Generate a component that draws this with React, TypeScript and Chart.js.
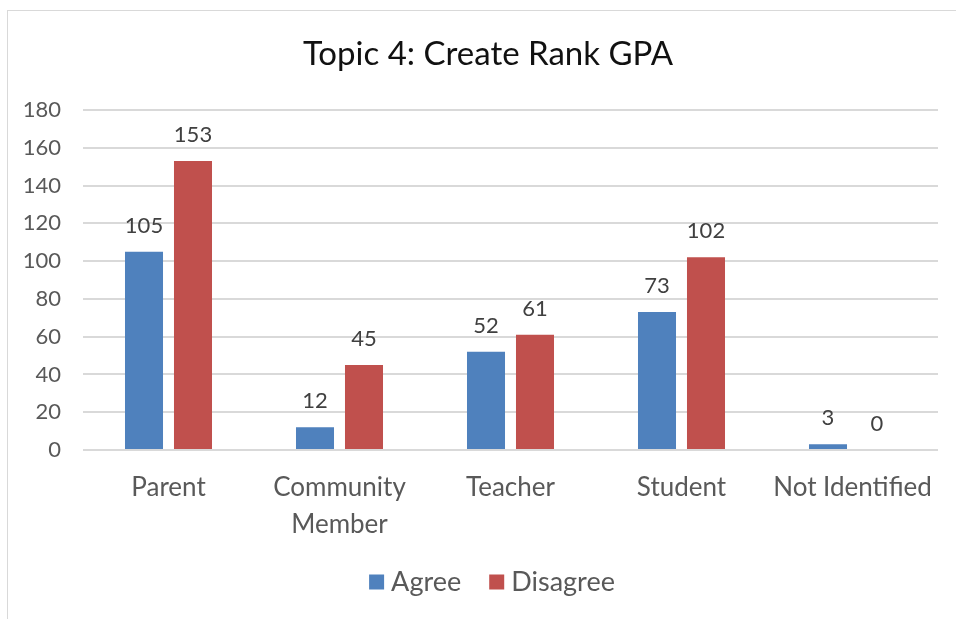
import React, { useEffect, useRef } from "react";
import { Chart, registerables } from "chart.js";

Chart.register(...registerables);

const TITLE = "Topic 4: Create Rank GPA";
const categories: (string | string[])[] = ["Parent", ["Community", "Member"], "Teacher", "Student", "Not Identified"];
const agree = [105, 12, 52, 73, 3];
const disagree = [153, 45, 61, 102, 0];
const yTicks = { min: 0, max: 180, step: 20 };

const FONT = "Lato, 'Open Sans', sans-serif";

const dataLabels = {
  id: "dataLabels",
  afterDatasetsDraw(chart: any) {
    const ctx = chart.ctx;
    ctx.save();
    ctx.font = `22px ${FONT}`;
    ctx.fillStyle = "#404040";
    ctx.textAlign = "center";
    ctx.textBaseline = "middle";
    chart.data.datasets.forEach((ds: any, i: number) => {
      const meta = chart.getDatasetMeta(i);
      meta.data.forEach((bar: any, j: number) => {
        ctx.fillText(String(ds.data[j]), bar.x, bar.y - 26);
      });
    });
    ctx.restore();
  },
};

const titlePlugin = {
  id: "titleDraw",
  afterDraw(chart: any) {
    const ctx = chart.ctx;
    ctx.save();
    ctx.font = `33px ${FONT}`;
    ctx.fillStyle = "#111111";
    ctx.textAlign = "center";
    ctx.textBaseline = "middle";
    ctx.fillText(TITLE, 488, 54);
    ctx.restore();
  },
};

const legendPlugin = {
  id: "customLegend",
  afterDraw(chart: any) {
    const ctx = chart.ctx;
    ctx.save();
    ctx.font = `27px ${FONT}`;
    ctx.textBaseline = "middle";
    ctx.textAlign = "left";
    const box = 15;
    const gapBoxText = 7;
    const gapItems = 28;
    const items = chart.data.datasets.map((ds: any) => ({
      label: ds.label,
      color: ds.backgroundColor,
      w: box + gapBoxText + ctx.measureText(ds.label).width,
    }));
    const total = items.reduce((s: number, it: any) => s + it.w, 0) + gapItems * (items.length - 1);
    let x = 492 - total / 2;
    const y = 582;
    items.forEach((it: any) => {
      ctx.fillStyle = it.color;
      ctx.fillRect(x, y - box / 2, box, box);
      ctx.fillStyle = "#595959";
      ctx.fillText(it.label, x + box + gapBoxText, y);
      x += it.w + gapItems;
    });
    ctx.restore();
  },
};

export default function App() {
  const ref = useRef<HTMLCanvasElement>(null);
  useEffect(() => {
    const chart = new Chart(ref.current!, {
      type: "bar",
      data: {
        labels: categories,
        datasets: [
          { label: "Agree", data: agree, backgroundColor: "#4F81BD", categoryPercentage: 0.573, barPercentage: 0.776 },
          { label: "Disagree", data: disagree, backgroundColor: "#C0504D", categoryPercentage: 0.573, barPercentage: 0.776 },
        ],
      },
      options: {
        animation: false,
        responsive: false,
        maintainAspectRatio: false,
        layout: { padding: { top: 110, right: 18, bottom: 61, left: 0 } },
        plugins: {
          title: { display: false },
          tooltip: { enabled: false },
          legend: { display: false },
        },
        scales: {
          x: {
            grid: { display: false, drawTicks: false },
            border: { display: false },
            ticks: { color: "#595959", font: { family: FONT, size: 26, lineHeight: 1.42 }, padding: 19, maxRotation: 0, autoSkip: false },
            afterFit(scale: any) { scale.height = 108; },
          },
          y: {
            min: yTicks.min,
            max: yTicks.max,
            grid: { color: "#D9D9D9", lineWidth: 2, drawTicks: false },
            border: { display: false },
            ticks: { stepSize: yTicks.step, color: "#595959", font: { family: FONT, size: 22 }, padding: 22 },
            afterFit(scale: any) { scale.width = 83; },
          },
        },
      },
      plugins: [dataLabels, titlePlugin, legendPlugin],
    });
    return () => chart.destroy();
  }, []);
  return (
    <div style={{ position: "absolute", left: 0, top: 0, width: 956, height: 619, background: "#fff" }}>
      <div style={{ position: "absolute", left: 7, top: 10, right: -2, bottom: -2, border: "1.5px solid #D9D9D9" }} />
      <canvas ref={ref} width={956} height={619} style={{ position: "absolute", left: 0, top: 0 }} />
    </div>
  );
}
